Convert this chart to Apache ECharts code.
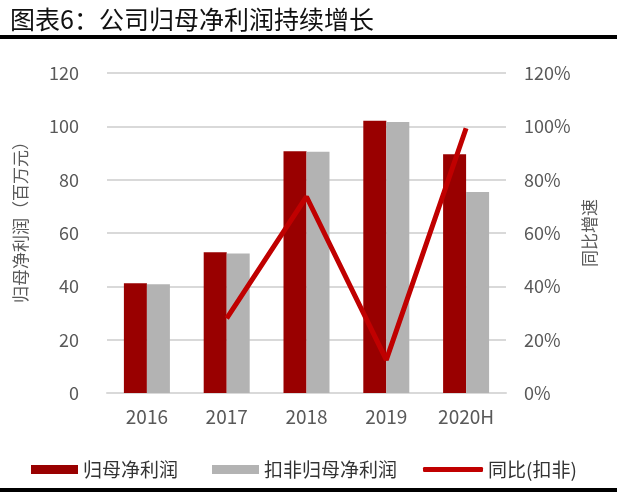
<!DOCTYPE html>
<html>
<head>
<meta charset="utf-8">
<script src="https://cdn.jsdelivr.net/npm/echarts@6/dist/echarts.min.js"></script>
<style>
  html, body { margin: 0; padding: 0; background: #fff; }
  #main { width: 640px; height: 494px; }
</style>
</head>
<body>
<div id="main"></div>
<script>
var years = ["2016", "2017", "2018", "2019", "2020H"];
var netProfit = [41.2, 52.8, 90.7, 102.1, 89.5];      // 归母净利润（百万元）
var netProfitDeducted = [40.8, 52.3, 90.5, 101.6, 75.4]; // 扣非归母净利润
var yoyDeducted = [null, 28.0, 73.6, 12.4, 99.3];     // 同比(扣非) %

var font = "Noto Sans CJK SC";
var labelColor = "#595959";

var myChart = echarts.init(document.getElementById("main"));
var option = {
  backgroundColor: "#fff",
  animation: false,
  textStyle: { fontFamily: font },
  title: {
    text: "图表6：公司归母净利润持续增长",
    left: 5,
    top: 2,
    textStyle: { fontFamily: font, fontSize: 25, fontWeight: "normal", color: "#111" }
  },
  graphic: [
    { type: "rect", shape: { x: 0, y: 35, width: 617, height: 4 }, style: { fill: "#000" } },
    { type: "rect", shape: { x: 0, y: 488, width: 617, height: 4 }, style: { fill: "#000" } }
  ],
  legend: [
    {
      data: [{ name: "归母净利润", icon: "rect" }], left: 26, top: 455,
      itemWidth: 47, itemHeight: 9, itemGap: 0,
      textStyle: { fontFamily: font, fontSize: 19, color: "#333" }
    },
    {
      data: [{ name: "扣非归母净利润", icon: "rect" }], left: 207, top: 455,
      itemWidth: 47, itemHeight: 9,
      textStyle: { fontFamily: font, fontSize: 19, color: "#333" }
    },
    {
      data: [{ name: "同比(扣非)", icon: "roundRect" }], left: 418, top: 455,
      itemWidth: 60, itemHeight: 5,
      textStyle: { fontFamily: font, fontSize: 19, color: "#333" }
    }
  ],
  grid: { left: 107, right: 134, top: 73, bottom: 101 },
  xAxis: {
    type: "category",
    data: years,
    axisLine: { show: true, lineStyle: { color: "#d9d9d9", width: 2 } },
    axisTick: { show: false },
    axisLabel: { color: labelColor, fontSize: 19, margin: 14, fontFamily: font }
  },
  yAxis: [
    {
      type: "value", min: 0, max: 120, interval: 20,
      name: "归母净利润（百万元）",
      nameLocation: "middle", nameRotate: 90, nameGap: 78,
      nameTextStyle: { color: labelColor, fontSize: 17, fontFamily: font, padding: [0, 0, 0, 30] },
      axisLine: { show: false }, axisTick: { show: false },
      axisLabel: { color: labelColor, fontSize: 18, margin: 28, fontFamily: font },
      splitLine: { lineStyle: { color: "#d9d9d9", width: 2 } }
    },
    {
      type: "value", min: 0, max: 120, interval: 20, position: "right",
      name: "同比增速",
      nameLocation: "middle", nameRotate: 90, nameGap: 70,
      nameTextStyle: { color: labelColor, fontSize: 17, fontFamily: font },
      axisLine: { show: false }, axisTick: { show: false },
      axisLabel: { color: labelColor, fontSize: 18, margin: 18, formatter: "{value}%", fontFamily: font },
      splitLine: { show: false }
    }
  ],
  series: [
    {
      name: "归母净利润", type: "bar", data: netProfit,
      barWidth: 23, barGap: "0%",
      itemStyle: { color: "#990000" }
    },
    {
      name: "扣非归母净利润", type: "bar", data: netProfitDeducted,
      barWidth: 23,
      itemStyle: { color: "#b3b3b3" }
    },
    {
      name: "同比(扣非)", type: "line", yAxisIndex: 1, data: yoyDeducted,
      symbol: "none", connectNulls: false,
      lineStyle: { color: "#c00000", width: 5 },
      itemStyle: { color: "#c00000" }
    }
  ]
};
myChart.setOption(option);
</script>
</body>
</html>
